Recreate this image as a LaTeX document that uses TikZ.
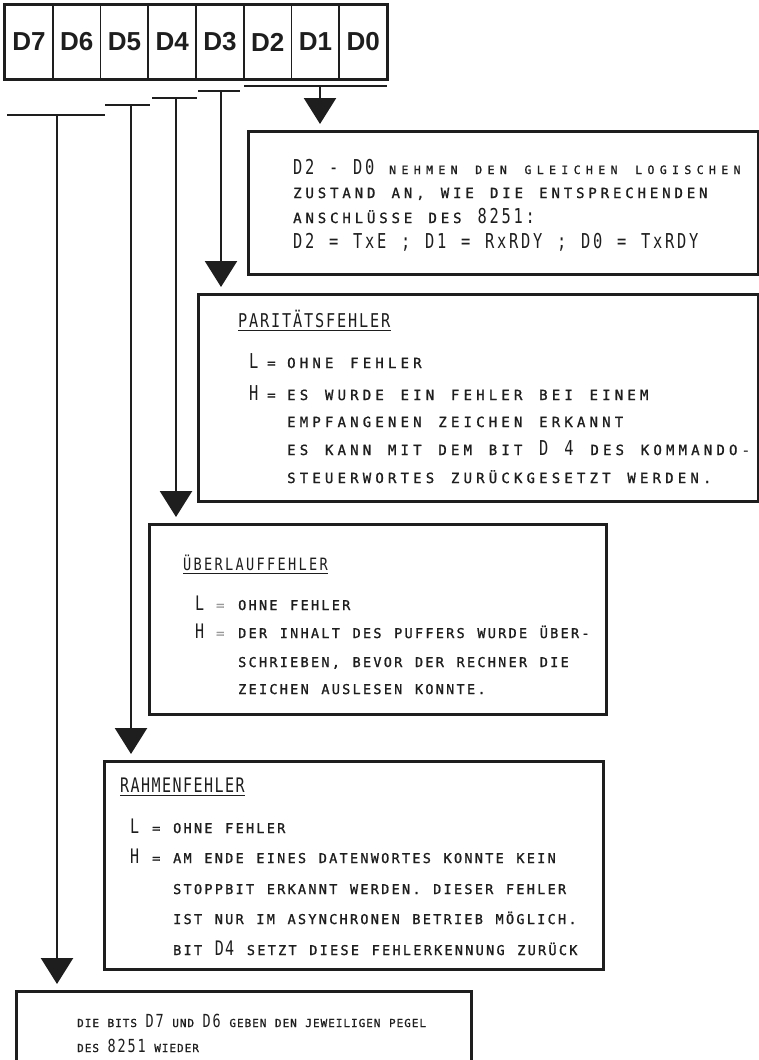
\documentclass[tikz,border=0pt]{standalone}
\usepackage{fontspec}
\setmainfont{Liberation Sans}
\newfontfamily\plotfont{DejaVu Sans Mono}
\usetikzlibrary{arrows.meta}
\definecolor{ink}{HTML}{1E1E1E}
% [horizontal stretch]{size}{character pitch}{extra features}{text}:
% plotter lettering set on a fixed pitch, word spaces included
\newcommand\trkset[5][1]{{\fontsize{#2pt}{#2pt}\selectfont
  \pgfmathsetmacro\trklsp{100*(#3-0.602*#2*#1)/#2}%
  \pgfmathsetmacro\trkspc{2*#3-0.602*#2*#1}%
  \edef\trkfeat{\noexpand\addfontfeature{LetterSpace=\trklsp,FakeStretch=#1#4}}\trkfeat
  \spaceskip=\trkspc pt\relax #5}}
\newcommand\body[3]{\trkset{#1}{#2}{,FakeBold=1.2}{#3}}
\newcommand\tall[3]{\trkset[0.75]{#1}{#2}{}{#3}}
% box 1: 12.3pt pitch
\newcommand\oneS[1]{\body{11.5}{12.3}{#1}}
\newcommand\oneM[1]{\body{14}{12.3}{#1}}
\newcommand\oneL[1]{\tall{20.5}{12}{#1}}
% box 2: 12.6pt pitch
\newcommand\twoB[1]{\body{14}{12.6}{#1}}
\newcommand\twoL[1]{\tall{20.5}{12.6}{#1}}
\newcommand\twoH[1]{\trkset[0.8]{19}{11}{}{#1}}
% boxes 3 and 4: 10.4pt pitch
\newcommand\thrB[1]{\body{13.5}{10.4}{#1}}
\newcommand\thrL[1]{\tall{20}{10.4}{#1}}
\newcommand\thrH[1]{\trkset[0.8]{17}{10.5}{}{#1}}
\newcommand\fouH[1]{\trkset[0.75]{20}{10.5}{}{#1}}
% box 5: 7.6pt pitch
\newcommand\fivS[1]{\body{11}{7.6}{#1}}
\newcommand\fivL[1]{\tall{18}{10}{#1}}
\begin{document}
\begin{tikzpicture}[x=1pt,y=-1pt,
  frame/.style={draw=ink, line width=3pt, inner sep=0pt, anchor=north west},
  cell/.style={draw=ink, line width=1.8pt, minimum width=47.75pt, minimum height=74pt,
    inner sep=0pt, text=ink, font=\fontsize{26}{26}\selectfont\bfseries},
  bracket/.style={draw=ink, line width=1.5pt},
  conn/.style={draw=ink, line width=2.5pt, -{Triangle[width=32pt,length=26pt]}, shorten >=6pt},
  txt/.style={anchor=base west, inner sep=0pt, font=\plotfont, text=ink},
  faint/.style={txt, text=black!40},
  uline/.style={draw=ink, line width=1pt}]
\useasboundingbox (0,0) rectangle (758,1060);
\fill[white] (0,0) rectangle (758,1060);

% status register
\foreach \b/\i in {7/0,6/1,5/2,4/3,3/4,2/5,1/6,0/7}
  \node[cell] (b\b) at ({5+47.75*\i+23.875},42) {D\b};
\draw[draw=ink, line width=3pt] (b7.north west) rectangle (b0.south east);

% bit group brackets
\coordinate (g20a) at (244,86);  \coordinate (g20b) at (387,86);  \coordinate (k20) at (320,86);
\coordinate (g3a)  at (198,91);  \coordinate (g3b)  at (240,91);  \coordinate (k3)  at (221,91);
\coordinate (g4a)  at (152,98);  \coordinate (g4b)  at (197,98);  \coordinate (k4)  at (176,98);
\coordinate (g5a)  at (105,105); \coordinate (g5b)  at (150,105); \coordinate (k5)  at (131,105);
\coordinate (g76a) at (7,115);   \coordinate (g76b) at (105,115); \coordinate (k76) at (57,115);
\foreach \g in {20,3,4,5,76} \draw[bracket] (g\g a) -- (g\g b);

% description boxes
\node[frame, minimum width=510pt, minimum height=143pt] (box1) at (247,130) {};
\node[frame, minimum width=560pt, minimum height=207pt] (box2) at (197,293) {};
\node[frame, minimum width=457pt, minimum height=190pt] (box3) at (148,523) {};
\node[frame, minimum width=499pt, minimum height=208pt] (box4) at (103,760) {};
\node[frame, minimum width=455pt, minimum height=90pt]  (box5) at (15,990) {};

% connectors
\draw[conn] (k20) -- (k20 |- box1.north);
\draw[conn] (k3)  -- (k3  |- box2.north);
\draw[conn] (k4)  -- (k4  |- box3.north);
\draw[conn] (k5)  -- (k5  |- box4.north);
\draw[conn] (k76) -- (k76 |- box5.north);

% D2 - D0
\node[txt] (t11) at (293,174) {\oneL{D2 - D0 }\oneS{NEHMEN DEN GLEICHEN LOGISCHEN}};
\node[txt] (t12) at (293,198) {\oneM{ZUSTAND AN, WIE DIE ENTSPRECHENDEN}};
\node[txt] (t13) at (293,223) {\oneM{ANSCHLÜSSE DES }\oneL{8251:}};
\node[txt] (t14) at (293,248) {\oneL{D2 = TxE ; D1 = RxRDY ; D0 = TxRDY}};

% D3
\node[txt] (h2) at (238,327) {\twoH{PARITÄTSFEHLER}};
\draw[uline] ([yshift=-3pt]h2.base west) -- ([yshift=-3pt]h2.base east);
\node[txt] (l2)  at (249,368) {\twoL{L}};
\node[txt] (le2) at (267,368) {\twoB{=}};
\node[txt] (lt2) at (287,368) {\twoB{OHNE FEHLER}};
\node[txt] (hh2) at (249,400) {\twoL{H}};
\node[txt] (he2) at (267,400) {\twoB{=}};
\node[txt] (ht2) at (287,400) {\twoB{ES WURDE EIN FEHLER BEI EINEM}};
\node[txt] (t24) at (287,427) {\twoB{EMPFANGENEN ZEICHEN ERKANNT}};
\node[txt] (t25) at (287,455) {\twoB{ES KANN MIT DEM BIT }\twoL{D 4}\twoB{ DES KOMMANDO-}};
\node[txt] (t26) at (287,483) {\twoB{STEUERWORTES ZURÜCKGESETZT WERDEN.}};

% D4
\node[txt] (h3) at (183,570) {\thrH{ÜBERLAUFFEHLER}};
\draw[uline] ([yshift=-3pt]h3.base west) -- ([yshift=-3pt]h3.base east);
\node[txt]   (l3)  at (195,610) {\thrL{L}};
\node[faint] (le3) at (216,610) {\thrB{=}};
\node[txt]   (lt3) at (238,610) {\thrB{OHNE FEHLER}};
\node[txt]   (hh3) at (195,638) {\thrL{H}};
\node[faint] (he3) at (216,638) {\thrB{=}};
\node[txt]   (ht3) at (238,638) {\thrB{DER INHALT DES PUFFERS WURDE ÜBER-}};
\node[txt]   (t34) at (238,667) {\thrB{SCHRIEBEN, BEVOR DER RECHNER DIE}};
\node[txt]   (t35) at (238,694) {\thrB{ZEICHEN AUSLESEN KONNTE.}};

% D5
\node[txt] (h4) at (120,792) {\fouH{RAHMENFEHLER}};
\draw[uline] ([yshift=-3pt]h4.base west) -- ([yshift=-3pt]h4.base east);
\node[txt] (l4)  at (130,833) {\thrL{L}};
\node[txt] (le4) at (152,833) {\thrB{=}};
\node[txt] (lt4) at (173,833) {\thrB{OHNE FEHLER}};
\node[txt] (hh4) at (130,863) {\thrL{H}};
\node[txt] (he4) at (152,863) {\thrB{=}};
\node[txt] (ht4) at (173,863) {\thrB{AM ENDE EINES DATENWORTES KONNTE KEIN}};
\node[txt] (t44) at (173,894) {\thrB{STOPPBIT ERKANNT WERDEN. DIESER FEHLER}};
\node[txt] (t45) at (173,924) {\thrB{IST NUR IM ASYNCHRONEN BETRIEB MÖGLICH.}};
\node[txt] (t46) at (173,955) {\thrB{BIT }\thrL{D4}\thrB{ SETZT DIESE FEHLERKENNUNG ZURÜCK}};

% D7, D6
\node[txt] (t51) at (77,1027) {\fivS{DIE BITS }\fivL{D7}\fivS{ UND }\fivL{D6}\fivS{ GEBEN DEN JEWEILIGEN PEGEL}};
\node[txt] (t52) at (77,1052) {\fivS{DES }\fivL{8251}\fivS{ WIEDER}};
\end{tikzpicture}
\end{document}
